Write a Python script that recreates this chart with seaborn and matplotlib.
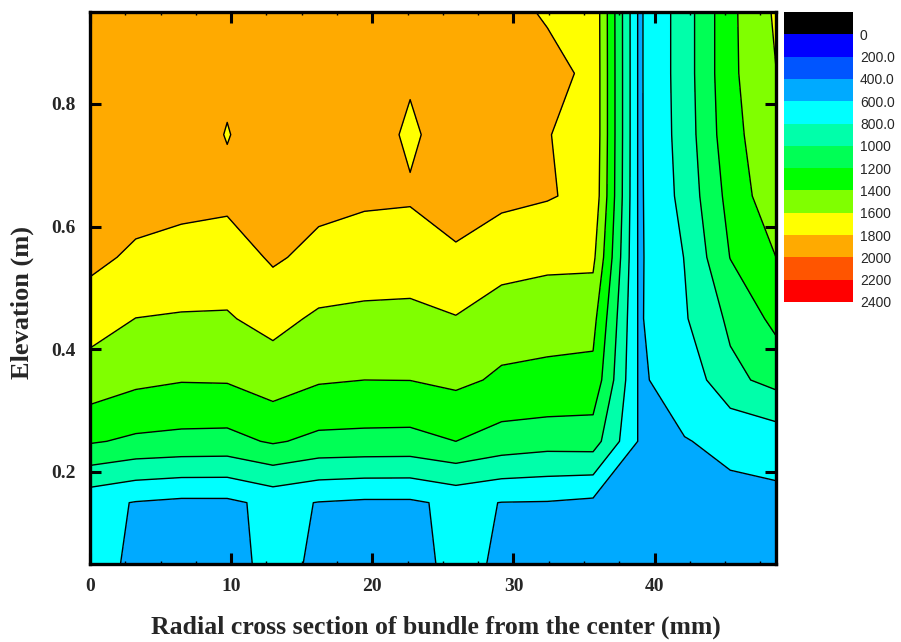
import numpy as np
import matplotlib
matplotlib.use("Agg")
import matplotlib.pyplot as plt
import seaborn as sns
from matplotlib.colors import ListedColormap, BoundaryNorm
from matplotlib.cm import ScalarMappable
from matplotlib.ticker import MultipleLocator

# Radial node positions (mm) and elevations (m) of the temperature map
radius_mm = [0.0, 3.24, 6.48, 9.72, 12.96, 16.2, 19.44, 22.68,
             25.92, 29.16, 32.4, 35.64, 38.88, 42.12, 45.36, 48.6]
elevation_m = [0.05, 0.15, 0.25, 0.35, 0.45, 0.55, 0.65, 0.75, 0.85, 0.95]

# Temperature (K) along the radius at each elevation
temp_z005 = [640, 580, 560, 560, 633, 583, 555, 560, 631, 585, 560, 560, 500, 540, 550, 545]
temp_z015 = [660, 590, 559, 560, 653, 593, 570, 570, 643, 596, 590, 560, 520, 560, 573, 557]
temp_z025 = [1220, 1165, 1147, 1140, 1222, 1152, 1145, 1140, 1200, 1119, 1080, 1090, 588, 595, 624, 677]
temp_z035 = [1520, 1443, 1410, 1415, 1496, 1419, 1400, 1402, 1441, 1372, 1380, 1344, 582, 660, 950, 1062]
temp_z045 = [1674, 1598, 1590, 1585, 1658, 1570, 1560, 1560, 1590, 1489, 1433, 1463, 579, 780, 1040, 1253]
temp_z055 = [1859, 1759, 1681, 1692, 1827, 1743, 1698, 1681, 1770, 1691, 1668, 1646, 574, 805, 1205, 1400]
temp_z065 = [1880, 1896, 1901, 1853, 1870, 1857, 1834, 1825, 1890, 1842, 1812, 1760, 570, 865, 1270, 1540]
temp_z075 = [1890, 1900, 1920, 1790, 1920, 1900, 1925, 1760, 1925, 1890, 1802, 1780, 570, 890, 1330, 1560]
temp_z085 = [1890, 1900, 1920, 1840, 1900, 1910, 1910, 1830, 1920, 1880, 1829, 1780, 570, 900, 1355, 1597]
temp_z095 = [1880, 1890, 1900, 1880, 1890, 1900, 1900, 1880, 1900, 1830, 1790, 1775, 570, 900, 1355, 1630]

# Contour levels and the colour of each band (lowest band: below 0)
levels = [-200, 0, 200, 400, 600, 800, 1000, 1200, 1400, 1600, 1800, 2000, 2200, 2400]
level_labels = ["0", "200.0", "400.0", "600.0", "800.0", "1000", "1200", "1400",
                "1600", "1800", "2000", "2200", "2400"]
band_colors = ["#000000", "#0000FF", "#0055FF", "#00AAFF", "#00FFFF", "#00FFAA",
               "#00FF55", "#00FF00", "#80FF00", "#FFFF00", "#FFAA00", "#FF5500", "#FF0000"]

sns.set_style("ticks")
plt.rcParams["font.family"] = ["Liberation Serif", "DejaVu Serif"]

palette = sns.color_palette(band_colors)
cmap = ListedColormap(palette)
norm = BoundaryNorm(levels, cmap.N)

temperature = np.array([temp_z005, temp_z015, temp_z025, temp_z035, temp_z045,
                        temp_z055, temp_z065, temp_z075, temp_z085, temp_z095], dtype=float)
X, Y = np.meshgrid(radius_mm, elevation_m)

fig = plt.figure(figsize=(9.01, 6.42), dpi=100)
ax = fig.add_axes([90 / 901, 1 - 564 / 642, 686 / 901, 552 / 642])
ax.set_axisbelow(False)

ax.contourf(X, Y, temperature, levels=levels, colors=palette)
ax.contour(X, Y, temperature, levels=levels, colors="black", linewidths=1.0)

ax.set_xlim(radius_mm[0], radius_mm[-1])
ax.set_ylim(elevation_m[0], elevation_m[-1])
ax.set_xticks([0, 10, 20, 30, 40])
ax.set_yticks([0.2, 0.4, 0.6, 0.8])
ax.set_yticklabels(["0.2", "0.4", "0.6", "0.8"])
ax.xaxis.set_minor_locator(MultipleLocator(2.5))
ax.tick_params(which="major", direction="in", length=8, width=2.2, color="black",
               top=True, right=True, labelsize=14, pad=10)
ax.tick_params(which="minor", direction="in", length=2.5, width=1, color="black",
               top=True, bottom=True, left=False, right=False)
for lab in ax.get_xticklabels() + ax.get_yticklabels():
    lab.set_fontweight("bold")
for sp in ax.spines.values():
    sp.set_linewidth(2.4)
    sp.set_color("black")
    sp.set_zorder(5)

ax.set_xlabel("Radial cross section of bundle from the center (mm)",
              fontsize=18.5, fontweight="bold")
ax.xaxis.set_label_coords(0.504, -0.093)
ax.set_ylabel("Elevation (m)", fontsize=19, fontweight="bold")
ax.yaxis.set_label_coords(-0.082, 0.473)

# Discrete colour key
cax = fig.add_axes([784 / 901, 1 - 302 / 642, 69 / 901, 290 / 642])
sm = ScalarMappable(norm=norm, cmap=cmap)
cb = fig.colorbar(sm, cax=cax, ticks=levels[1:], spacing="uniform")
cb.outline.set_visible(False)
cax.minorticks_off()
cax.invert_yaxis()
cb.set_ticklabels(level_labels)
cax.tick_params(which="both", length=0, pad=5, labelsize=10)
for lab in cax.get_yticklabels():
    lab.set_family(["Liberation Sans", "DejaVu Sans"])

fig.savefig("out.png", dpi=100)
